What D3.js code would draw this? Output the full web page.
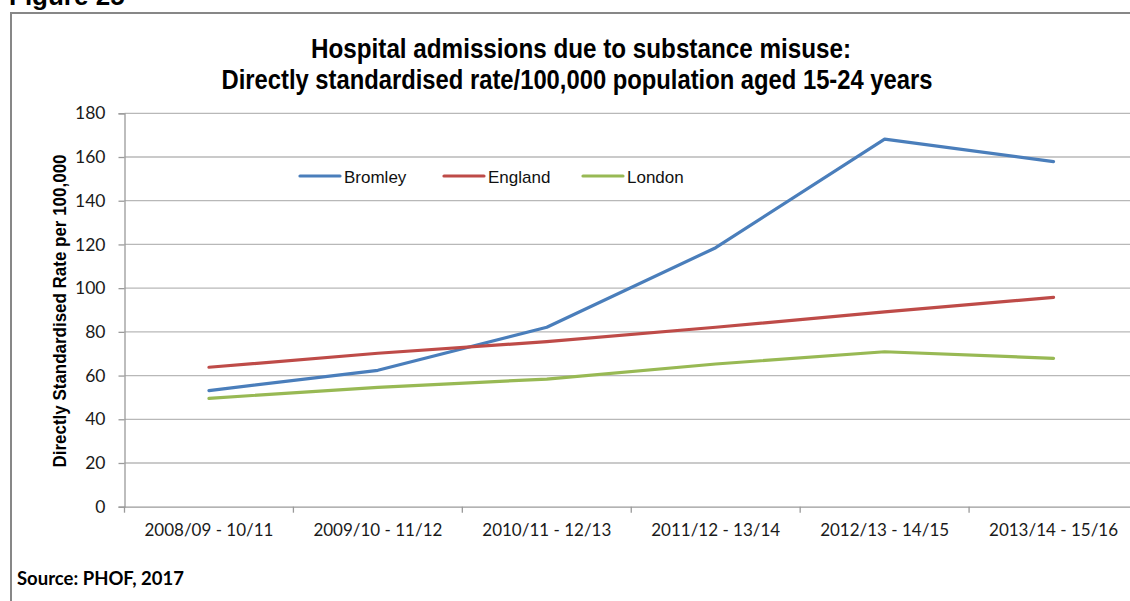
<!DOCTYPE html>
<html>
<head>
<meta charset="utf-8">
<script src="https://cdn.jsdelivr.net/npm/d3@7"></script>
<style>
  html, body { margin: 0; padding: 0; background: #fff; overflow: hidden; }
  svg { display: block; }
</style>
</head>
<body>
<svg id="chart" width="1130" height="601"></svg>
<script>
const categories = ["2008/09 - 10/11", "2009/10 - 11/12", "2010/11 - 12/13", "2011/12 - 13/14", "2012/13 - 14/15", "2013/14 - 15/16"];
const bromley = [53.1, 62.4, 82.1, 118.5, 168.2, 157.9];
const england = [63.8, 70.2, 75.5, 82.1, 89.1, 95.8];
const london  = [49.6, 54.6, 58.4, 65.3, 70.9, 67.9];
const seriesNames = ["Bromley", "England", "London"];
const seriesColors = ["#4A7EBB", "#BE4B48", "#98B954"];
const yTicks = [0, 20, 40, 60, 80, 100, 120, 140, 160, 180];

const svg = d3.select("#chart");
const plotLeft = 124.5, plotRight = 1138, plotTop = 113.3, plotBottom = 506.7;

const x = d3.scaleBand().domain(categories).range([plotLeft, plotRight]);
const y = d3.scaleLinear().domain([0, 180]).range([plotBottom, plotTop]);

// outer frame
svg.append("rect").attr("x", 11).attr("y", 13).attr("width", 1300).attr("height", 800)
  .attr("fill", "none").attr("stroke", "#878787").attr("stroke-width", 2);

// "Figure 25" heading (cut off at the top edge as in the reference)
svg.append("text").attr("x", 9).attr("y", 5)
  .attr("font-family", "'Liberation Sans', Arial, sans-serif").attr("font-weight", "bold")
  .attr("font-size", 26).attr("fill", "#000").text("Figure 25");

// title (Arial Narrow look: Liberation Sans bold condensed via textLength)
const titleFont = "'Liberation Sans', Arial, sans-serif";
svg.append("text").attr("x", 581).attr("y", 58).attr("text-anchor", "middle")
  .attr("font-family", titleFont).attr("font-weight", "bold").attr("font-size", 28)
  .attr("textLength", 540).attr("lengthAdjust", "spacingAndGlyphs")
  .text("Hospital admissions due to substance misuse:");
svg.append("text").attr("x", 577).attr("y", 89).attr("text-anchor", "middle")
  .attr("font-family", titleFont).attr("font-weight", "bold").attr("font-size", 28)
  .attr("textLength", 711).attr("lengthAdjust", "spacingAndGlyphs")
  .text("Directly standardised rate/100,000 population aged 15-24 years");

// gridlines
svg.append("g").selectAll("line").data(yTicks.filter(d => d > 0)).join("line")
  .attr("x1", plotLeft).attr("x2", plotRight)
  .attr("y1", d => y(d)).attr("y2", d => y(d))
  .attr("stroke", "#b8b8b8").attr("stroke-width", 1.3);

// y axis
const yAxis = d3.axisLeft(y).tickValues(yTicks).tickSize(6).tickPadding(13);
const gy = svg.append("g").attr("transform", `translate(${plotLeft},0)`).call(yAxis);
gy.select(".domain").attr("stroke", "#9a9a9a").attr("stroke-width", 1.3);
gy.selectAll(".tick line").attr("stroke", "#9a9a9a").attr("stroke-width", 1.3);
gy.selectAll(".tick text").attr("font-family", "Lato, 'Open Sans', sans-serif")
  .attr("font-size", 17.5).attr("fill", "#1a1a1a");

// x axis
const xAxis = d3.axisBottom(x).tickSize(0).tickPadding(17);
const gx = svg.append("g").attr("transform", `translate(0,${plotBottom})`).call(xAxis);
gx.select(".domain").attr("stroke", "#9a9a9a").attr("stroke-width", 1.3);
gx.selectAll(".tick text").attr("font-family", "Lato, 'Open Sans', sans-serif")
  .attr("font-size", 17).attr("fill", "#1a1a1a");
// x tick marks at band edges
const edges = categories.map(c => x(c)).concat([plotRight]);
svg.append("g").selectAll("line").data(edges).join("line")
  .attr("x1", d => d).attr("x2", d => d)
  .attr("y1", plotBottom).attr("y2", plotBottom + 6)
  .attr("stroke", "#9a9a9a").attr("stroke-width", 1.3);

// y axis title
svg.append("text").attr("transform", "translate(65.5,311) rotate(-90)")
  .attr("text-anchor", "middle").attr("font-family", titleFont).attr("font-weight", "bold")
  .attr("font-size", 19).attr("textLength", 313).attr("lengthAdjust", "spacingAndGlyphs")
  .text("Directly Standardised Rate per 100,000");

// lines
const data = [bromley, england, london];
const line = d3.line().x((d, i) => x(categories[i]) + x.bandwidth() / 2).y(d => y(d));
svg.append("g").selectAll("path").data(data).join("path")
  .attr("d", d => line(d)).attr("fill", "none")
  .attr("stroke", (d, i) => seriesColors[i]).attr("stroke-width", 3.2)
  .attr("stroke-linejoin", "round").attr("stroke-linecap", "round");

// legend
const legendX = [300, 444, 583];
const lg = svg.append("g").selectAll("g").data(seriesNames).join("g")
  .attr("transform", (d, i) => `translate(${legendX[i]},176)`);
lg.append("line").attr("x1", 0).attr("x2", 40).attr("y1", 0).attr("y2", 0)
  .attr("stroke", (d, i) => seriesColors[i]).attr("stroke-width", 3.2).attr("stroke-linecap", "round");
lg.append("text").attr("x", 44).attr("y", 6.5)
  .attr("font-family", "'Liberation Sans', Arial, sans-serif").attr("font-size", 17)
  .attr("fill", "#111").text(d => d);

// source
svg.append("text").attr("x", 17).attr("y", 585)
  .attr("font-family", "Lato, 'Open Sans', sans-serif").attr("font-weight", "bold")
  .attr("font-size", 18.5).attr("fill", "#000").text("Source: PHOF, 2017");
</script>
</body>
</html>
